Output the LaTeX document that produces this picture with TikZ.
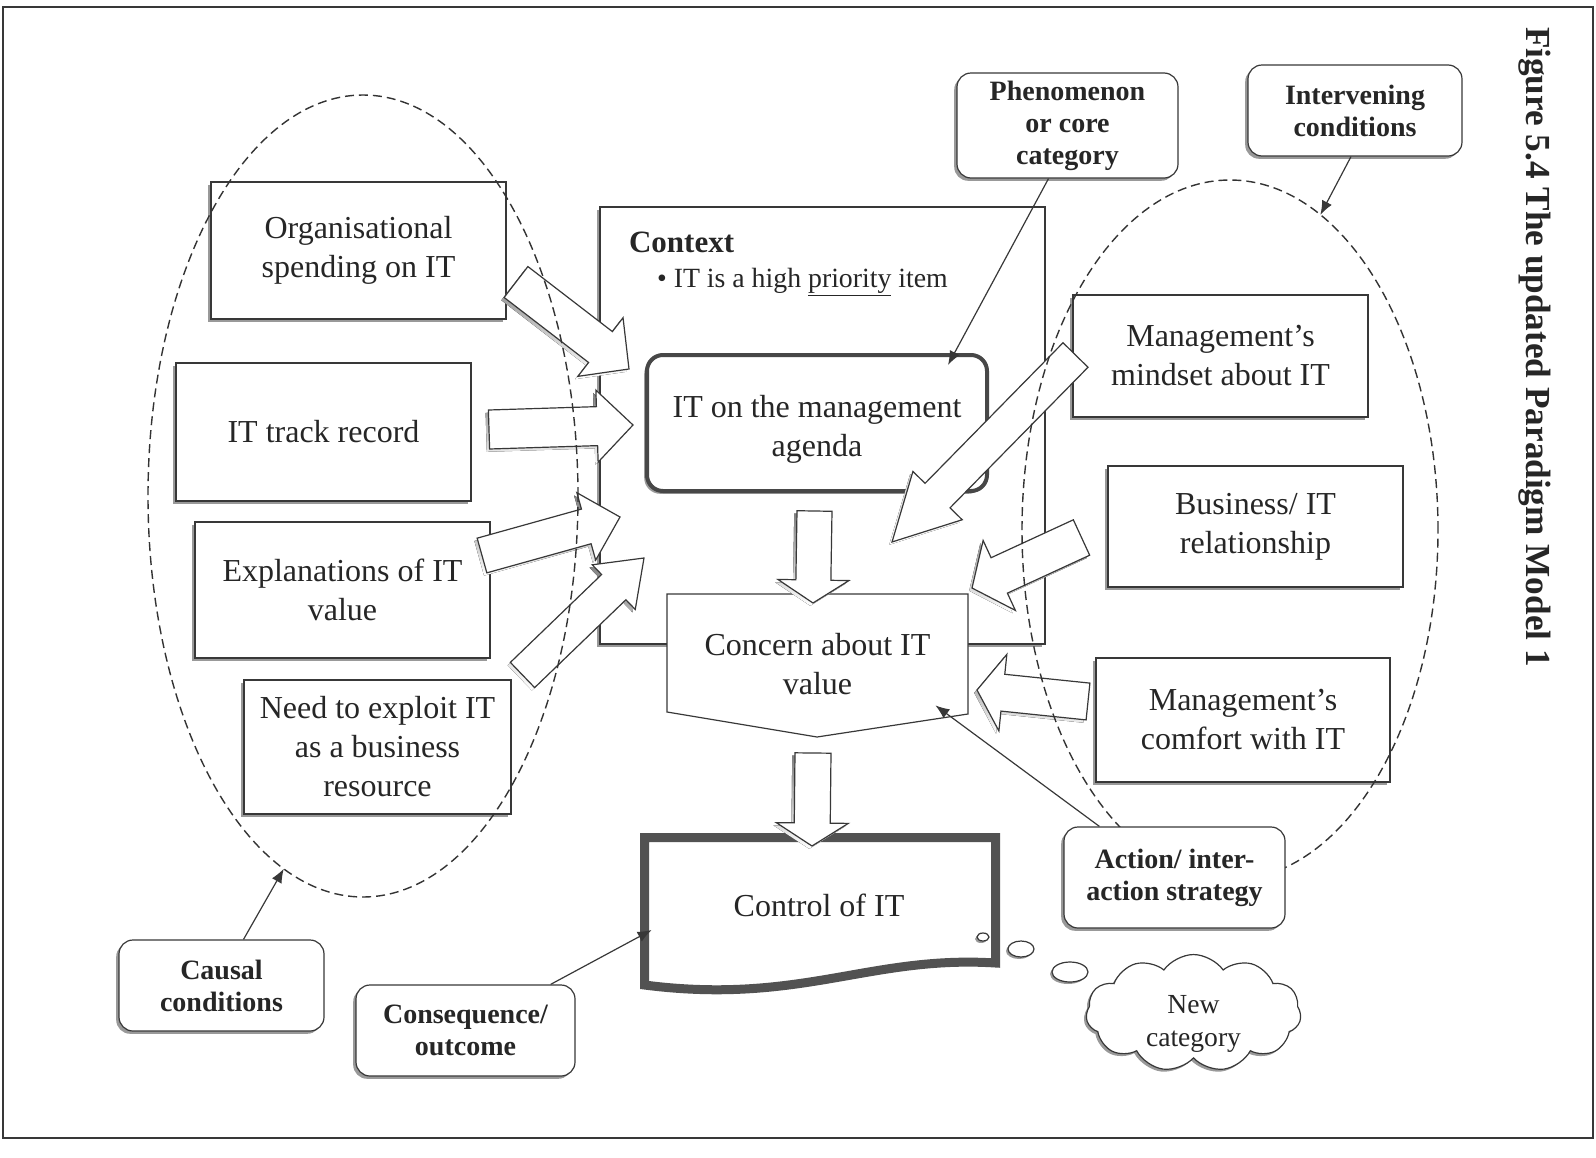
\documentclass[tikz,border=0pt]{standalone}
\usepackage{fontspec}
\setmainfont{Liberation Serif}
\usetikzlibrary{arrows.meta,calc,shadows,shapes.geometric,shapes.symbols}

\colorlet{ink}{black!78}
\colorlet{shade}{black!40}
\newcommand{\mainsize}{\fontsize{16}{19.5}\selectfont}
\tikzset{
  >={Latex[length=7pt,width=5.5pt]},
  catbox/.style={draw=ink, fill=white, line width=0.6pt, align=center, text=black!85,
    font=\mainsize, inner sep=0pt,
    drop shadow={shadow xshift=-1.4pt, shadow yshift=-1.4pt, fill=shade, opacity=1}},
  tagbox/.style={catbox, rounded corners=7pt, font=\bfseries\fontsize{14}{16}\selectfont},
  grouping/.style={ellipse, draw=black!80, dash pattern=on 4.5pt off 2.5pt, line width=0.7pt,
    inner sep=0pt, outer sep=0pt},
  pointer/.style={->, draw=ink, line width=0.6pt},
  fatarrow/.style={draw=ink, fill=white, line width=0.6pt},
  bubble/.style={ellipse, draw=ink, fill=white, line width=0.6pt, inner sep=0pt,
    drop shadow={shadow xshift=-1pt, shadow yshift=-1pt, fill=shade, opacity=1}}
}

% block arrow: tail centre (#1,#2), tip (#3,#4), shaft width #5, head width #6, head length #7
\newcommand{\blockarrow}[7]{%
  \pgfmathsetmacro{\bang}{atan2(-((#4)-(#2)),(#3)-(#1))}%
  \pgfmathsetmacro{\blen}{veclen((#3)-(#1),(#4)-(#2))}%
  \pgfmathsetmacro{\bneck}{\blen-#7}%
  \begin{scope}[xshift=-1.4pt,yshift=-1.4pt,shift={(#1,#2)},rotate=\bang]
    \fill[shade] (0,{-#5/2}) -- (\bneck,{-#5/2}) -- (\bneck,{-#6/2}) -- (\blen,0)
      -- (\bneck,{#6/2}) -- (\bneck,{#5/2}) -- (0,{#5/2}) -- cycle;
  \end{scope}
  \begin{scope}[shift={(#1,#2)},rotate=\bang]
    \draw[fatarrow] (0,{-#5/2}) -- (\bneck,{-#5/2}) -- (\bneck,{-#6/2}) -- (\blen,0)
      -- (\bneck,{#6/2}) -- (\bneck,{#5/2}) -- (0,{#5/2}) -- cycle;
  \end{scope}}

\begin{document}
\begin{tikzpicture}[x=0.5pt,y=-0.5pt]
  \useasboundingbox (0,0) rectangle (1596,1157);
  % frame
  \draw[ink,line width=0.8pt] (3,7) rectangle (1593,1138);
  % context
  \node[catbox,minimum width=222.5pt,minimum height=218.5pt] (context) at (822.5,425.5) {};
  \node[anchor=base west,text=black!85,font=\bfseries\fontsize{15.5}{18}\selectfont] (ctxhead) at (622,252) {Context};
  \node[anchor=base west,text=black!85,font=\fontsize{13.9}{17}\selectfont] (ctxitem) at (650,287) {\textbullet\ IT is a high \underline{priority} item};
  % causal conditions
  \node[catbox,minimum width=147.5pt,minimum height=68.5pt] (org) at (358.5,250.5) {Organisational\\spending on IT};
  \node[catbox,minimum width=147.5pt,minimum height=69pt] (track) at (323.5,432) {IT track record};
  \node[catbox,minimum width=147.5pt,minimum height=68pt] (expl) at (342.5,590) {Explanations of IT\\value};
  \node[catbox,minimum width=133.5pt,minimum height=67pt] (exploit) at (377.5,747) {Need to exploit IT\\as a business\\resource};
  % intervening conditions
  \node[catbox,minimum width=147.5pt,minimum height=61pt] (mindset) at (1220.5,356) {Management's\\mindset about IT};
  \node[catbox,minimum width=147.5pt,minimum height=60.5pt] (business) at (1255.5,526.5) {Business/ IT\\relationship};
  \node[catbox,minimum width=147pt,minimum height=62pt] (comfort) at (1243,720) {Management's\\comfort with IT};
  % phenomenon
  \node[catbox,rounded corners=8pt,line width=2pt,draw=black!72,minimum width=170pt,minimum height=68pt] (agenda) at (817,423)
    {\raisebox{-3pt}[\height][\depth]{\begin{tabular}{@{}c@{}}IT on the management\\agenda\end{tabular}}};
  % concern
  \draw[fatarrow] (667,594) -- (968,594) -- (968,714) -- (817,737) -- (667,712) -- cycle;
  \node[minimum width=150.5pt,minimum height=60pt,align=center,text=black!85,font=\mainsize] (concern) at (817.5,664) {Concern about IT\\value};
  % consequence
  \draw[line width=4.5pt,draw=black!68,fill=white,drop shadow={shadow xshift=-1.4pt,shadow yshift=-1.4pt,fill=shade,opacity=1}]
    (644.5,837.5) -- (995.5,837.5) -- (995.5,963) .. controls (870,955) and (800,1005) .. (644.5,985) -- cycle;
  \node[minimum width=170pt,text=black!85,font=\mainsize] (control) at (819,905) {Control of IT};
  % block arrows
  \blockarrow{516}{282}{629}{369}{39}{74}{36}
  \blockarrow{489}{429.5}{633}{425}{39}{72}{36}
  \blockarrow{482}{555.5}{620}{517}{36}{70}{35}
  \blockarrow{522.5}{675}{644}{558}{35}{62}{42}
  \blockarrow{1075.5}{355}{892}{542}{35}{69}{65}
  \blockarrow{1081.5}{537.5}{972}{588}{39}{77}{30}
  \blockarrow{1088}{701.5}{977}{690}{37}{77}{26}
  \blockarrow{814.5}{511}{813}{603}{35}{71}{23}
  \blockarrow{813}{753}{812}{846}{36}{72}{23}
  % dashed groups
  \node[grouping,minimum width=215pt,minimum height=401pt] (causalgrp) at (363,496) {};
  \node[grouping,minimum width=208pt,minimum height=350pt] (intervgrp) at (1230,530) {};
  % paradigm labels
  \node[tagbox,minimum width=110.5pt,minimum height=52.5pt] (phen) at (1067.5,125.5) {Phenomenon\\or core\\category};
  \node[tagbox,minimum width=107pt,minimum height=45.5pt] (interv) at (1355,110.5) {Intervening\\conditions};
  \node[tagbox,minimum width=110.5pt,minimum height=50.5pt] (action) at (1174.5,877.5) {Action/ inter-\\action strategy};
  \node[tagbox,minimum width=102.5pt,minimum height=45.5pt] (causal) at (221.5,985.5) {Causal\\conditions};
  \node[tagbox,minimum width=109.5pt,minimum height=45.5pt] (conseq) at (465.5,1030.5) {Consequence/\\outcome};
  % pointers
  \draw[pointer] ($(causal.north)+(22,0)$) -- (causalgrp.-102);
  \draw[pointer] ($(conseq.north east)+(-25,0)$) -- ($(control.west)+(3,25)$);
  \draw[pointer] ($(phen.south)+(-19,0)$) -- ($(agenda.north east)+(-41,12)$);
  \draw[pointer] ($(interv.south)+(-4,0)$) -- (intervgrp.74);
  \draw[pointer] ($(action.north west)+(36,0)$) -- ($(concern.south east)+(-33,-19)$);
  % new category
  \node[bubble,minimum width=6pt,minimum height=4pt] (bub1) at (983,937) {};
  \node[bubble,minimum width=13pt,minimum height=8pt] (bub2) at (1021,949) {};
  \node[bubble,minimum width=18pt,minimum height=10pt] (bub3) at (1070,972) {};
  \node[cloud,cloud puffs=11,cloud puff arc=110,aspect=2,draw=ink,fill=white,line width=0.6pt,
    minimum width=107.5pt,minimum height=53pt,inner sep=0pt,text=black!85,
    font=\fontsize{13.8}{16.5}\selectfont,
    drop shadow={shadow xshift=-1.2pt,shadow yshift=-1.2pt,fill=shade,opacity=1}] (newcat) at (1193.5,1013)
    {\raisebox{-5pt}[\height][\depth]{\begin{tabular}{@{}c@{}}New\\category\end{tabular}}};
  % title
  \node[rotate=-90,text=black!85,font=\bfseries\fontsize{17.6}{20}\selectfont] (title) at (1535,347) {Figure 5.4 The updated Paradigm Model 1};
\end{tikzpicture}
\end{document}
